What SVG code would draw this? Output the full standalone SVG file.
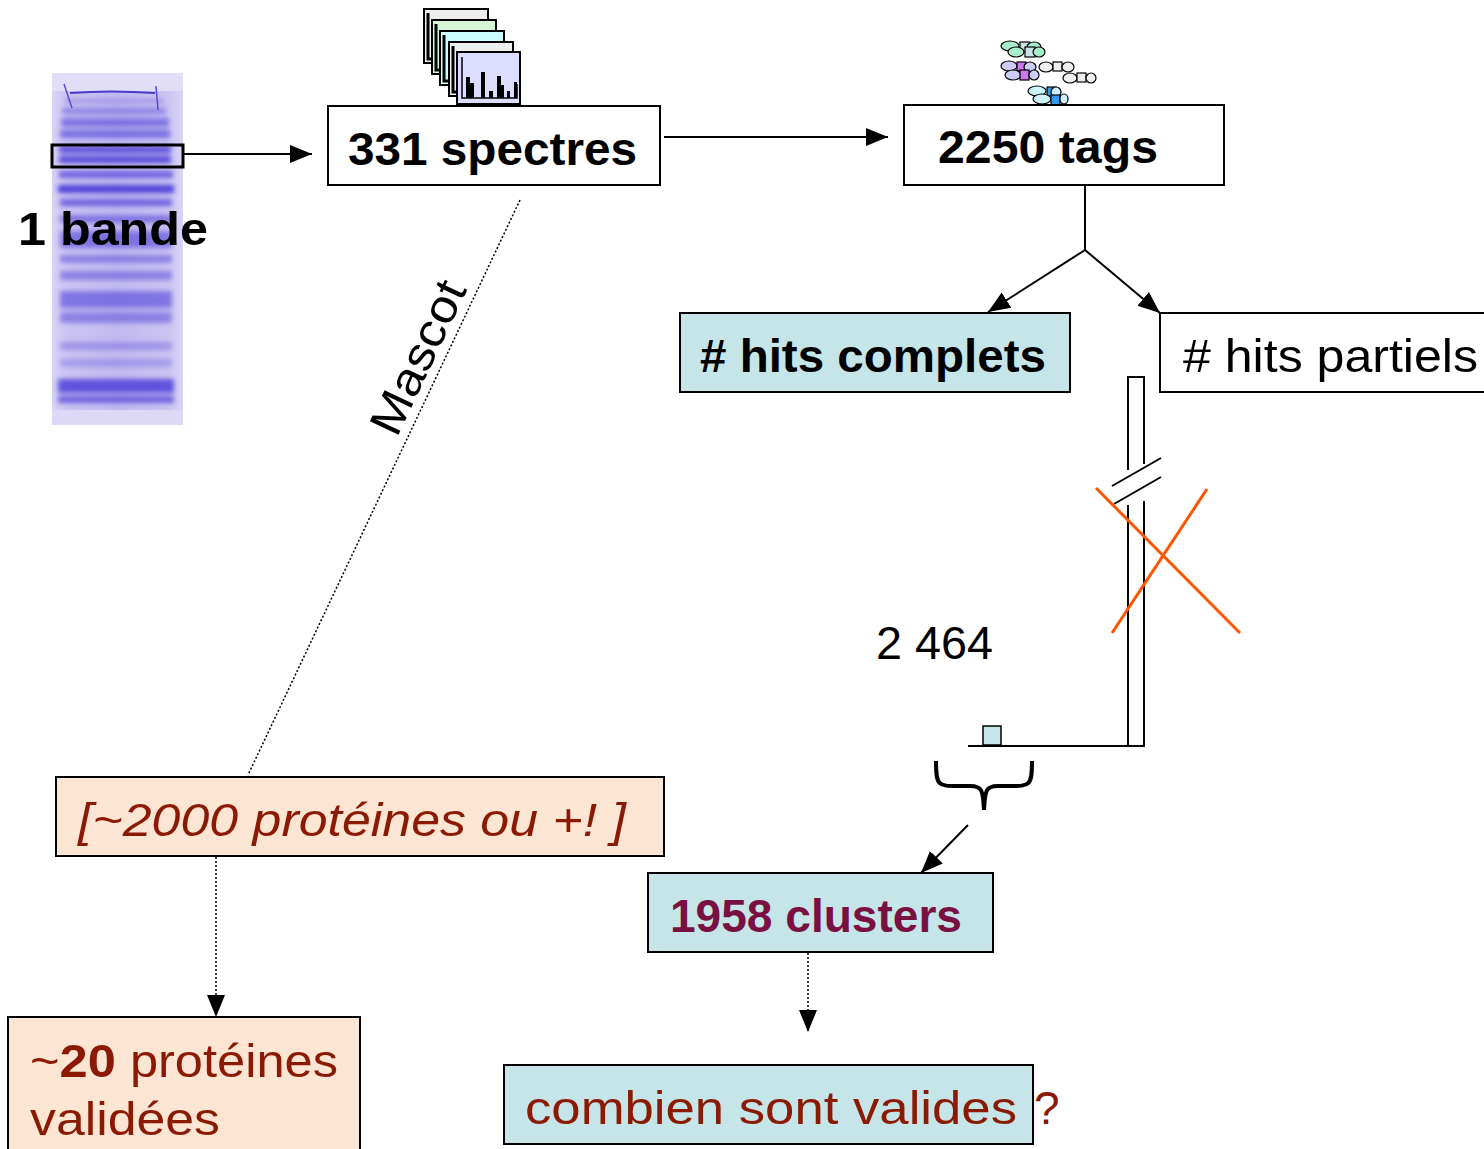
<svg xmlns="http://www.w3.org/2000/svg" width="1484" height="1149" viewBox="0 0 1484 1149">
<defs>
<style>
.box{stroke:#000;stroke-width:2}
.blue{fill:#c5e5e8}
.peach{fill:#fde5d3}
.white{fill:#fff}
.t{font-family:"Liberation Sans","DejaVu Sans",sans-serif;font-size:46px}
.b{font-weight:bold}
.red{fill:#8b1a05}
.wine{fill:#7a1042}
.ln{stroke:#000;stroke-width:2;fill:none}
.dot{stroke:#000;stroke-width:1.5;fill:none;stroke-dasharray:2 2}
.band{fill:#5040d8}
.page{stroke:#000;stroke-width:2}
</style>
<marker id="ah" markerUnits="userSpaceOnUse" markerWidth="24" markerHeight="20" refX="22" refY="9" orient="auto" viewBox="0 0 24 18">
<path d="M0,0 L22,9 L0,18 Z" fill="#000"/>
</marker>
<filter id="blur" filterUnits="userSpaceOnUse" x="40" y="60" width="160" height="380"><feGaussianBlur stdDeviation="2.6"/></filter>
<linearGradient id="gelg" x1="0" y1="0" x2="1" y2="0">
<stop offset="0" stop-color="#d9d4f6"/>
<stop offset="0.12" stop-color="#cbc4f2"/>
<stop offset="0.5" stop-color="#c2baf0"/>
<stop offset="0.88" stop-color="#cbc4f2"/>
<stop offset="1" stop-color="#d9d4f6"/>
</linearGradient>
</defs>

<g id="gel">
<rect x="52" y="73" width="131" height="352" fill="url(#gelg)"/>
<rect x="52" y="73" width="131" height="18" fill="#e2def8"/>
<rect x="52" y="410" width="131" height="15" fill="#dcd8f6"/>
<g filter="url(#blur)">
<rect class="band" x="64" y="99" width="100" height="4" opacity="0.35"/>
<rect class="band" x="62" y="108" width="104" height="6" opacity="0.5"/>
<rect class="band" x="61" y="118" width="108" height="9" opacity="0.6"/>
<rect class="band" x="60" y="130" width="110" height="8" opacity="0.65"/>
<rect class="band" x="59" y="146" width="112" height="7" opacity="0.9"/>
<rect class="band" x="59" y="156" width="112" height="7" opacity="0.95"/>
<rect class="band" x="59" y="171" width="114" height="7" opacity="0.75"/>
<rect class="band" x="58" y="185" width="116" height="8" opacity="1"/>
<rect class="band" x="60" y="199" width="112" height="7" opacity="0.75"/>
<rect class="band" x="60" y="215" width="112" height="8" opacity="0.6"/>
<rect class="band" x="60" y="231" width="112" height="17" opacity="0.6"/>
<rect class="band" x="60" y="255" width="112" height="8" opacity="0.5"/>
<rect class="band" x="60" y="271" width="112" height="9" opacity="0.5"/>
<rect class="band" x="60" y="291" width="112" height="17" opacity="0.6"/>
<rect class="band" x="60" y="312" width="112" height="11" opacity="0.5"/>
<rect class="band" x="60" y="342" width="112" height="8" opacity="0.35"/>
<rect class="band" x="60" y="359" width="112" height="8" opacity="0.3"/>
<rect class="band" x="58" y="379" width="116" height="14" opacity="0.85"/>
<rect class="band" x="58" y="396" width="116" height="7" opacity="0.75"/>
</g>
<path d="M70,93 Q110,90 155,93" stroke="#4a3ac8" stroke-width="2" fill="none"/>
<path d="M64,84 L72,108 M156,86 L158,110" stroke="#5a48d0" stroke-width="1.5" fill="none"/>
<rect x="52" y="145" width="131" height="22" fill="none" stroke="#000" stroke-width="3"/>
<text class="t b" x="18" y="245" font-size="46" textLength="190" lengthAdjust="spacingAndGlyphs">1 bande</text>
</g>

<g id="spectra-icon">
<rect class="page" x="424" y="9" width="64" height="54" fill="#eeeeee"/>
<path d="M428,13 L428,59 L434,59" stroke="#000" stroke-width="3" fill="none"/>
<rect class="page" x="432" y="20" width="64" height="54" fill="#d8f5d8"/>
<path d="M436,24 L436,70 L442,70" stroke="#000" stroke-width="3" fill="none"/>
<rect class="page" x="440" y="31" width="64" height="54" fill="#ccffff"/>
<path d="M444,35 L444,81 L450,81" stroke="#000" stroke-width="3" fill="none"/>
<rect class="page" x="449" y="42" width="64" height="54" fill="#eeeeee"/>
<path d="M453,46 L453,92 L459,92" stroke="#000" stroke-width="3" fill="none"/>
<rect class="page" x="457" y="52" width="63" height="52" fill="#ddddff"/>
<path d="M462,57 L462,98 L517,98 L517,84" stroke="#000" stroke-width="1.5" fill="none"/>
<g fill="#000">
<rect x="466" y="77" width="4" height="21"/>
<rect x="470" y="83" width="4" height="15"/>
<rect x="481" y="72" width="4" height="26"/>
<rect x="489" y="91" width="4" height="7"/>
<rect x="497" y="76" width="4" height="22"/>
<rect x="501" y="85" width="3" height="13"/>
<rect x="507" y="91" width="3" height="7"/>
<rect x="514" y="82" width="3" height="16"/>
</g>
</g>

<g id="tags-icon" stroke="#000" stroke-width="1.2">
<ellipse cx="1010" cy="46" rx="9" ry="5" fill="#a8eccc"/>
<rect x="1020" y="42" width="10" height="10" fill="#c8e4e8"/>
<ellipse cx="1034" cy="47" rx="7" ry="5" fill="#a8eccc"/>
<ellipse cx="1016" cy="52" rx="8" ry="5" fill="#a8eccc"/>
<rect x="1025" y="47" width="10" height="10" fill="#c8e4e8"/>
<ellipse cx="1039" cy="52" rx="6" ry="5" fill="#a8eccc"/>

<ellipse cx="1009" cy="66" rx="8" ry="5" fill="#ccccf4"/>
<rect x="1017" y="62" width="9" height="9" fill="#cc77ee"/>
<ellipse cx="1030" cy="67" rx="6" ry="5" fill="#ccccf4"/>
<ellipse cx="1013" cy="75" rx="8" ry="5" fill="#ccccf4"/>
<rect x="1020" y="70" width="9" height="10" fill="#cc77ee"/>
<ellipse cx="1034" cy="75" rx="5" ry="5" fill="#ccccf4"/>
<ellipse cx="1046" cy="67" rx="7" ry="5" fill="#eeeeee"/>
<rect x="1053" y="62" width="9" height="9" fill="#eeeeee"/>
<ellipse cx="1068" cy="67" rx="6" ry="5" fill="#eeeeee"/>
<ellipse cx="1070" cy="78" rx="7" ry="5" fill="#eeeeee"/>
<rect x="1077" y="73" width="9" height="9" fill="#eeeeee"/>
<ellipse cx="1091" cy="78" rx="5" ry="5" fill="#eeeeee"/>

<ellipse cx="1037" cy="91" rx="9" ry="5" fill="#ccf4ff"/>
<rect x="1047" y="87" width="9" height="9" fill="#3399ee"/>
<ellipse cx="1056" cy="92" rx="5" ry="5" fill="#ccf4ff"/>
<ellipse cx="1042" cy="99" rx="9" ry="5" fill="#ccf4ff"/>
<rect x="1051" y="95" width="9" height="10" fill="#3399ee"/>
<ellipse cx="1064" cy="99" rx="4" ry="5" fill="#ccf4ff"/>
</g>

<g id="connectors">
<line class="ln" x1="183" y1="154" x2="312" y2="154" marker-end="url(#ah)"/>
<line class="ln" x1="664" y1="137" x2="888" y2="137" marker-end="url(#ah)"/>
<polyline class="ln" points="1085,185 1085,250"/>
<line class="ln" x1="1085" y1="250" x2="988" y2="312" marker-end="url(#ah)"/>
<line class="ln" x1="1085" y1="250" x2="1160" y2="313" marker-end="url(#ah)"/>
<line class="dot" x1="520" y1="200" x2="248" y2="775"/>
<line class="dot" x1="216" y1="857" x2="216" y2="1017" marker-end="url(#ah)"/>
<line class="dot" x1="808" y1="953" x2="808" y2="1032" marker-end="url(#ah)"/>
<line class="ln" x1="968" y1="825" x2="921" y2="873" marker-end="url(#ah)"/>
<path class="ln" d="M1128,470 L1128,377 L1144,377 L1144,464"/>
<path class="ln" d="M1128,505 L1128,746 M1144,501 L1144,746 L968,746"/>
<line class="ln" x1="1112" y1="486" x2="1161" y2="458"/>
<line class="ln" x1="1114" y1="504" x2="1161" y2="477"/>
<rect x="983" y="726" width="18" height="19" class="blue" stroke="#000" stroke-width="1.5"/>
<path d="M936,761 C936,786 938,786 958,786 L970,786 C982,786 983,790 984,810 C985,790 986,786 998,786 L1010,786 C1030,786 1032,786 1032,761" fill="none" stroke="#000" stroke-width="4"/>
<line x1="1096" y1="488" x2="1240" y2="633" stroke="#ff5500" stroke-width="3"/>
<line x1="1207" y1="489" x2="1112" y2="633" stroke="#ff5500" stroke-width="3"/>
</g>

<g id="mascot-label">
<text class="t" transform="translate(432,364) rotate(-64.7)" text-anchor="middle" font-size="42" textLength="165" lengthAdjust="spacingAndGlyphs">Mascot</text>
</g>

<g id="spectres">
<rect class="box white" x="328" y="106" width="332" height="79"/>
<text class="t b" x="348" y="165" textLength="289" lengthAdjust="spacingAndGlyphs">331 spectres</text>
</g>

<g id="tags">
<rect class="box white" x="904" y="105" width="320" height="80"/>
<text class="t b" x="938" y="163" textLength="220" lengthAdjust="spacingAndGlyphs">2250 tags</text>
</g>

<g id="hits-complets">
<rect class="box blue" x="680" y="313" width="390" height="79"/>
<text class="t b" x="700" y="372" textLength="346" lengthAdjust="spacingAndGlyphs"># hits complets</text>
</g>

<g id="hits-partiels">
<rect class="box white" x="1160" y="313" width="326" height="79"/>
<text class="t" x="1183" y="372" textLength="295" lengthAdjust="spacingAndGlyphs"># hits partiels</text>
</g>

<g id="count-2464">
<text class="t" x="876" y="659" font-size="44" textLength="117" lengthAdjust="spacingAndGlyphs">2 464</text>
</g>

<g id="clusters">
<rect class="box blue" x="648" y="873" width="345" height="79"/>
<text class="t b wine" x="670" y="932" textLength="292" lengthAdjust="spacingAndGlyphs">1958 clusters</text>
</g>

<g id="valides">
<rect class="box blue" x="504" y="1065" width="529" height="79"/>
<text class="t red" x="525" y="1124" textLength="492" lengthAdjust="spacingAndGlyphs">combien sont valides</text>
<text class="t red" x="1034" y="1124">?</text>
</g>

<g id="proteines-2000">
<rect class="box peach" x="56" y="777" width="608" height="79"/>
<text class="t red" x="78" y="836" font-style="italic" textLength="548" lengthAdjust="spacingAndGlyphs">[~2000 protéines ou +!  ]</text>
</g>

<g id="proteines-20">
<rect class="box peach" x="8" y="1017" width="352" height="140"/>
<text class="t red" x="30" y="1077" textLength="308" lengthAdjust="spacingAndGlyphs">~<tspan font-weight="bold">20</tspan> protéines</text>
<text class="t red" x="30" y="1135" textLength="190" lengthAdjust="spacingAndGlyphs">validées</text>
</g>
</svg>
